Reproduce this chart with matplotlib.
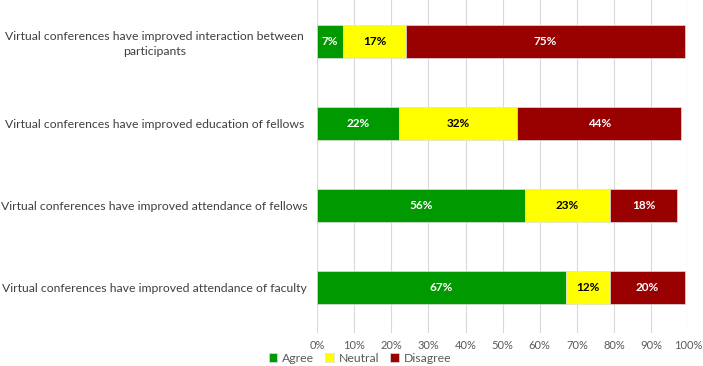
import numpy as np
import matplotlib
matplotlib.use('Agg')
import matplotlib.pyplot as plt
from matplotlib.ticker import FuncFormatter

plt.rcParams['font.family'] = ['Lato', 'DejaVu Sans']

categories = ['Virtual conferences have improved interaction between\nparticipants',
              'Virtual conferences have improved education of fellows',
              'Virtual conferences have improved attendance of fellows',
              'Virtual conferences have improved attendance of faculty']
agree = [7, 22, 56, 67]
neutral = [17, 32, 23, 12]
disagree = [75, 44, 18, 20]

series = [('Agree', agree, '#009900', 'white'),
          ('Neutral', neutral, '#FFFF00', 'black'),
          ('Disagree', disagree, '#990000', 'white')]

fig = plt.figure(figsize=(7.03, 3.66), dpi=100)
ax = fig.add_axes([0.451, 0.09, 0.528, 0.91])

y = np.arange(len(categories))
left = np.zeros(len(categories))
for name, vals, col, tcol in series:
    vals = np.array(vals, dtype=float)
    bars = ax.barh(y, vals, left=left, height=0.4, color=col, label=name,
                   edgecolor='#dddddd', linewidth=0.5, zorder=3)
    for yy, l, v in zip(y, left, vals):
        ax.text(l + v / 2, yy, '{:d}%'.format(int(v)), ha='center', va='center',
                color=tcol, fontsize=8.5, fontweight='bold', zorder=4)
    left += vals

ax.set_ylim(len(categories) - 0.45, -0.5)
ax.set_xlim(0, 100)
ax.set_xticks(np.arange(0, 101, 10))
ax.xaxis.set_major_formatter(FuncFormatter(lambda v, p: '{:d}%'.format(int(v))))
ax.set_yticks(y)
ax.set_yticklabels(categories, fontsize=8.8, color='#404040', ha='center', linespacing=1.45)
ax.tick_params(axis='y', length=0, pad=117)
ax.tick_params(axis='x', length=0, labelsize=8, colors='#595959', pad=5)
ax.grid(axis='x', color='#d9d9d9', linewidth=0.8, zorder=0)
for s in ax.spines.values():
    s.set_visible(False)

leg = fig.legend(loc='lower left', bbox_to_anchor=(0.37, -0.018), ncol=3, frameon=False,
                 fontsize=8.8, handlelength=0.7, handleheight=0.7, handletextpad=0.4,
                 columnspacing=0.9, borderpad=0.2)
for t in leg.get_texts():
    t.set_color('#595959')

fig.savefig('out.png', dpi=100)
